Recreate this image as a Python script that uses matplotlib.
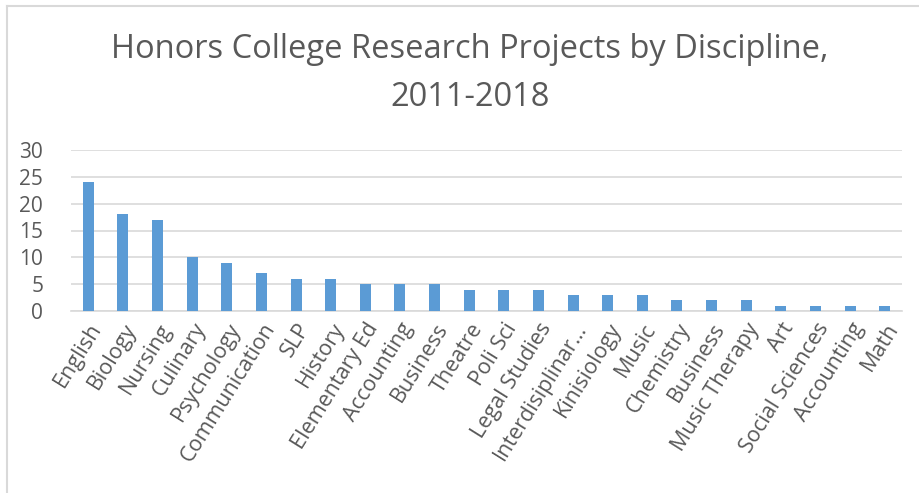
import numpy as np
import matplotlib.pyplot as plt
from matplotlib.lines import Line2D

# data
disciplines = ['English', 'Biology', 'Nursing', 'Culinary', 'Psychology',
               'Communication', 'SLP', 'History', 'Elementary Ed', 'Accounting',
               'Business', 'Theatre', 'Poli Sci', 'Legal Studies',
               'Interdisiplinar\u2026', 'Kinisiology', 'Music', 'Chemistry',
               'Business', 'Music Therapy', 'Art', 'Social Sciences',
               'Accounting', 'Math']
projects = [24, 18, 17, 10, 9, 7, 6, 6, 5, 5, 5, 4, 4, 4, 3, 3, 3, 2, 2, 2,
            1, 1, 1, 1]
y_ticks = [0, 5, 10, 15, 20, 25, 30]

text_col = '#595959'
plt.rcParams['font.family'] = ['Open Sans', 'DejaVu Sans']

fig = plt.figure(figsize=(9.2, 4.93), dpi=100)
ax = fig.add_axes([71 / 920, 1 - 311 / 493, (902 - 71) / 920, (311 - 150) / 493])

x_pos = np.arange(len(disciplines))
ax.bar(x_pos, projects, width=0.32, color='#5b9bd5', zorder=3)

ax.set_xlim(-0.5, len(disciplines) - 0.5)
ax.set_ylim(0, 30)
ax.set_yticks(y_ticks)
ax.grid(axis='y', color='#d9d9d9', linewidth=1.2, zorder=0)
for s in ['top', 'right', 'left']:
    ax.spines[s].set_visible(False)
ax.spines['bottom'].set_color('#d9d9d9')
ax.spines['bottom'].set_linewidth(1.2)

ax.set_xticks(x_pos)
ax.set_xticklabels(disciplines, rotation=58, ha='right', rotation_mode='anchor',
                   fontsize=15.5, color=text_col)
ax.tick_params(axis='x', length=0, pad=6)
ax.tick_params(axis='y', length=0, pad=20, labelsize=15, labelcolor=text_col)

# title
fig.text(0.511, 1 - 74 / 493, 'Honors College Research Projects by Discipline,\n2011-2018',
         ha='center', va='center', fontsize=23.5, color=text_col, linespacing=1.6)

# chart border (left and top only visible)
fig.add_artist(Line2D([7 / 920, 7 / 920], [0, 1 - 6 / 493], color='#d9d9d9', lw=1.5))
fig.add_artist(Line2D([7 / 920, 1], [1 - 6 / 493, 1 - 6 / 493], color='#d9d9d9', lw=1.5))

fig.savefig('out.png', dpi=100)
